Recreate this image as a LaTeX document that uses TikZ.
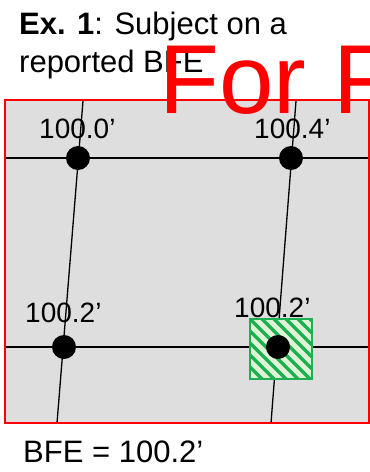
\documentclass[tikz,border=0pt]{standalone}
\usepackage{fontspec}
\setmainfont{Liberation Sans}
\definecolor{bggray}{RGB}{222,222,222}
\definecolor{hgreen}{RGB}{30,176,80}
\definecolor{lgreen}{RGB}{222,244,214}
\begin{document}
\begin{tikzpicture}[x=1pt,y=-1pt,
  gridline/.style={black,line width=1.3pt},
  dot/.style={circle,fill=black,inner sep=0pt,minimum size=24pt},
  lbl/.style={anchor=base west,inner sep=0pt,font=\fontsize{28}{32}\selectfont},
  ttl/.style={anchor=base west,inner sep=0pt,font=\fontsize{31}{37}\selectfont},
  stripe/.style={hgreen,line width=3.5pt}]
\useasboundingbox (0,0) rectangle (370,472);
\clip (0,0) rectangle (370,472);
% background panel
\fill[bggray] (5,100) rectangle (370,423);
% grid lines
\coordinate (t1) at (83,101); \coordinate (b1) at (57,423);
\coordinate (t2) at (296,101); \coordinate (b2) at (271,423);
\coordinate (l1) at (6,158); \coordinate (r1) at (370,158);
\coordinate (l2) at (6,347); \coordinate (r2) at (370,347);
\draw[gridline] (t1) -- (b1);
\draw[gridline] (t2) -- (b2);
\draw[gridline] (l1) -- (r1);
\draw[gridline] (l2) -- (r2);
% hatched box
\fill[lgreen] (250,319) rectangle (312,379);
\begin{scope}
\clip (250,319) rectangle (312,379);
\foreach \i in {-72,-60,...,72} \draw[stripe] ({250+\i},319) -- ++(70,70);
\end{scope}
\draw[hgreen,line width=2.5pt] (250,319) rectangle (312,379);
% dots
\node[dot] (d1) at (78,158) {};
\node[dot] (d2) at (291,158) {};
\node[dot] (d3) at (64,347) {};
\node[dot] (d4) at (278,347) {};
% red frame
\draw[red,line width=2pt] (5,100) rectangle (369,423);
% labels
\node[lbl] (n1) at (39,138) {100.0’};
\node[lbl] (n2) at (254,138) {100.4’};
\node[lbl] (n3) at (25,322) {100.2’};
\node[lbl] (n4) at (234,317) {100.2’};
% title
\node[ttl] (ti1) at (19,34) {\textbf{Ex. 1}: Subject on a};
\node[ttl] (ti2) at (19,72) {reported BFE};
\node[ttl] (bfe) at (23,462) {BFE = 100.2’};
% watermark
\node[anchor=base west,inner sep=0pt,text=red,font=\fontsize{98}{100}\selectfont] (wm) at (159,113) {For F};
\end{tikzpicture}
\end{document}
